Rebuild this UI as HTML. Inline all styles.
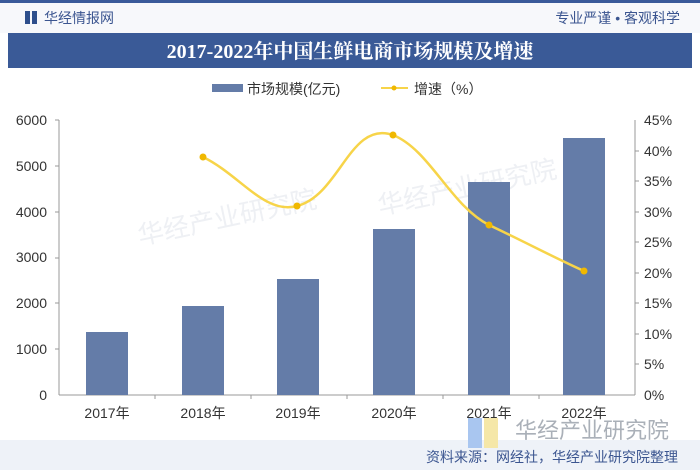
<!DOCTYPE html>
<html><head><meta charset="utf-8"><style>
body{margin:0;width:700px;height:470px;overflow:hidden;background:#fff;font-family:"Liberation Sans","Noto Sans CJK SC",sans-serif}
</style></head><body>
<svg width="700" height="470" xmlns="http://www.w3.org/2000/svg" font-family="Liberation Sans, Noto Sans CJK SC, sans-serif">
<rect x="0" y="0" width="700" height="3" fill="#3a5a9a"/>
<rect x="0" y="3" width="700" height="30" fill="#f7f8fb"/>
<rect x="25" y="11" width="5" height="13" fill="#2e4f8c"/><rect x="32" y="11" width="5" height="13" fill="#2e4f8c"/>
<text x="44" y="23" font-size="14" fill="#3b5590">华经情报网</text>
<text x="680" y="23" font-size="14" fill="#3b5590" text-anchor="end">专业严谨 • 客观科学</text>
<rect x="8" y="33" width="684" height="35" fill="#3a5a97"/>
<text x="350" y="58" font-size="20" fill="#fff" font-weight="bold" text-anchor="middle" font-family="Liberation Serif, Noto Serif CJK SC, serif">2017-2022年中国生鲜电商市场规模及增速</text>
<rect x="212" y="84" width="31" height="8" fill="#647ca8"/>
<text x="247" y="94" font-size="14" fill="#333">市场规模(亿元)</text>
<line x1="381" y1="88" x2="408" y2="88" stroke="#f7d449" stroke-width="2"/><circle cx="394" cy="88" r="2.5" fill="#f0b800"/>
<text x="414" y="94" font-size="14" fill="#333">增速（%）</text>
<text x="140" y="245" font-size="26" fill="#eef0f4" transform="rotate(-12 140 245)">华经产业研究院</text>
<text x="380" y="215" font-size="26" fill="#eef0f4" transform="rotate(-12 380 215)">华经产业研究院</text>
<g font-size="14" fill="#333" text-anchor="end">
<text x="47" y="125">6000</text><text x="47" y="171">5000</text><text x="47" y="217">4000</text><text x="47" y="262">3000</text><text x="47" y="308">2000</text><text x="47" y="354">1000</text><text x="47" y="400">0</text>
</g>
<g font-size="14" fill="#333">
<text x="644" y="125">45%</text><text x="644" y="156">40%</text><text x="644" y="186">35%</text><text x="644" y="217">30%</text><text x="644" y="247">25%</text><text x="644" y="278">20%</text><text x="644" y="308">15%</text><text x="644" y="339">10%</text><text x="644" y="369">5%</text><text x="644" y="400">0%</text>
</g>
<line x1="59" y1="120" x2="59" y2="395" stroke="#999"/>
<line x1="635" y1="120" x2="635" y2="395" stroke="#999"/>
<line x1="59" y1="395" x2="635" y2="395" stroke="#999"/>
<g stroke="#999"><line x1="155" y1="395" x2="155" y2="399"/><line x1="251" y1="395" x2="251" y2="399"/><line x1="347" y1="395" x2="347" y2="399"/><line x1="443" y1="395" x2="443" y2="399"/><line x1="539" y1="395" x2="539" y2="399"/>
<line x1="55" y1="120" x2="59" y2="120"/><line x1="55" y1="166" x2="59" y2="166"/><line x1="55" y1="212" x2="59" y2="212"/><line x1="55" y1="258" x2="59" y2="258"/><line x1="55" y1="303" x2="59" y2="303"/><line x1="55" y1="349" x2="59" y2="349"/>
<line x1="635" y1="151" x2="639" y2="151"/><line x1="635" y1="181" x2="639" y2="181"/><line x1="635" y1="212" x2="639" y2="212"/><line x1="635" y1="242" x2="639" y2="242"/><line x1="635" y1="273" x2="639" y2="273"/><line x1="635" y1="303" x2="639" y2="303"/><line x1="635" y1="334" x2="639" y2="334"/><line x1="635" y1="364" x2="639" y2="364"/></g>
<g fill="#647ca8">
<rect x="86" y="332" width="42" height="63"/><rect x="182" y="306" width="42" height="89"/><rect x="277" y="279" width="42" height="116"/><rect x="373" y="229" width="42" height="166"/><rect x="468" y="182" width="42" height="213"/><rect x="563" y="138" width="42" height="257"/>
</g>
<path d="M203,157 C240,175 265,215 297,206 C340,195 350,120 393,135 C430,150 450,205 489,225 C525,242 555,258 584,271" fill="none" stroke="#f7d449" stroke-width="2.5"/>
<g fill="#f0b800"><circle cx="203" cy="157" r="3.5"/><circle cx="297" cy="206" r="3.5"/><circle cx="393" cy="135" r="3.5"/><circle cx="489" cy="225" r="3.5"/><circle cx="584" cy="271" r="3.5"/></g>
<g font-size="14" fill="#333" text-anchor="middle">
<text x="107" y="418">2017年</text><text x="203" y="418">2018年</text><text x="298" y="418">2019年</text><text x="394" y="418">2020年</text><text x="489" y="418">2021年</text><text x="584" y="418">2022年</text>
</g>
<rect x="0" y="440" width="700" height="30" fill="#eef2f8"/>
<rect x="468" y="418" width="14" height="30" fill="#a9c6f0"/><rect x="484" y="418" width="14" height="30" fill="#f5e7a8"/>
<text x="515" y="438" font-size="22" fill="#aab0b8">华经产业研究院</text>
<text x="678" y="462" font-size="14" fill="#3b5590" text-anchor="end">资料来源：网经社，华经产业研究院整理</text>
</svg>
</body></html>
